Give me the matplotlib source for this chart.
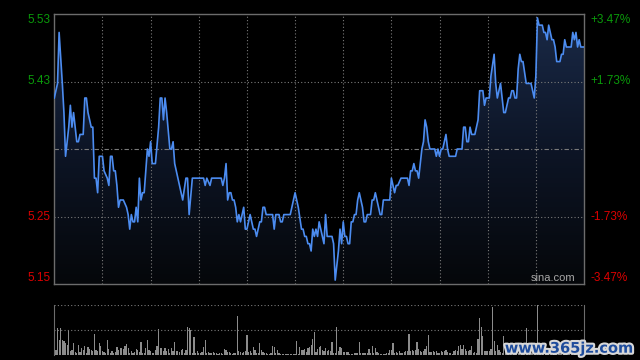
import numpy as np
import matplotlib.pyplot as plt
import matplotlib.patheffects as pe
from matplotlib.colors import LinearSegmentedColormap
from matplotlib.transforms import blended_transform_factory, offset_copy

# previous close and the +/- range shown on the chart
prev_close = 5.34
pct_range = 3.47

left_labels = ['5.53', '5.43', '5.25', '5.15']
right_labels = ['+3.47%', '+1.73%', '-1.73%', '-3.47%']
label_colors = ['#0a9a0a', '#0a9a0a', '#dd0000', '#dd0000']

# minute of the session (HK: 330 minutes) and last price
times = [0, 2, 3, 5, 6, 7, 9, 10, 11, 12, 14, 15, 16, 18, 19, 20, 21, 23, 24, 25,
         26, 27, 28, 30, 31, 33, 34, 35, 36, 37, 38, 39, 40, 41, 43, 45, 46, 47, 48, 49,
         50, 51, 52, 53, 54, 55, 56, 57, 58, 59, 60, 61, 63, 65, 66, 67, 68, 69, 70, 72,
         73, 74, 75, 77, 80, 82, 83, 84, 86, 93, 94, 95, 97, 98, 104, 105, 106, 107, 108, 109,
         110, 111, 112, 113, 114, 115, 116, 117, 118, 119, 120, 121, 122, 123, 124, 125, 126, 127, 128, 129,
         130, 131, 132, 136, 137, 138, 140, 141, 142, 143, 147, 149, 150, 151, 152, 154, 155, 156, 157, 158,
         159, 160, 161, 162, 163, 164, 165, 167, 168, 169, 170, 173, 174, 175, 177, 178, 179, 180, 181, 182,
         183, 184, 185, 186, 187, 188, 189, 190, 191, 192, 193, 194, 195, 197, 198, 199, 200, 201, 202, 203,
         204, 205, 209, 210, 211, 212, 213, 214, 216, 220, 221, 222, 223, 224, 225, 226, 227, 229, 230, 231,
         232, 233, 234, 237, 238, 239, 240, 241, 242, 243, 244, 245, 246, 250, 251, 254, 255, 256, 257, 258,
         259, 260, 262, 263, 264, 265, 267, 268, 269, 271, 272, 274, 275, 276, 277, 278, 279, 280, 281, 282,
         283, 284, 285, 286, 287, 288, 289, 290, 291, 292, 294, 297, 298, 299, 300, 301, 302, 304, 305, 306,
         307, 308, 309, 310, 311, 312, 313, 315, 316, 317, 318, 319, 322, 323, 324, 325, 326, 327, 328, 330]
prices = [5.41, 5.43, 5.50, 5.43, 5.39, 5.33, 5.37, 5.40, 5.37, 5.39, 5.35, 5.35, 5.36, 5.36, 5.41, 5.41, 5.39, 5.37, 5.37, 5.30,
          5.30, 5.28, 5.33, 5.33, 5.31, 5.30, 5.29, 5.33, 5.33, 5.31, 5.31, 5.29, 5.26, 5.27, 5.27, 5.26, 5.25, 5.23, 5.25, 5.24,
          5.24, 5.26, 5.24, 5.30, 5.27, 5.28, 5.28, 5.31, 5.34, 5.33, 5.35, 5.32, 5.32, 5.37, 5.41, 5.41, 5.38, 5.41, 5.39, 5.34,
          5.34, 5.35, 5.32, 5.30, 5.27, 5.30, 5.30, 5.25, 5.30, 5.30, 5.29, 5.30, 5.29, 5.30, 5.30, 5.29, 5.30, 5.32, 5.27, 5.28,
          5.28, 5.27, 5.27, 5.26, 5.24, 5.25, 5.24, 5.25, 5.26, 5.23, 5.23, 5.24, 5.25, 5.24, 5.23, 5.23, 5.22, 5.23, 5.24, 5.24,
          5.26, 5.26, 5.25, 5.25, 5.23, 5.25, 5.25, 5.24, 5.24, 5.25, 5.25, 5.27, 5.28, 5.27, 5.26, 5.23, 5.23, 5.22, 5.22, 5.21,
          5.21, 5.20, 5.23, 5.22, 5.23, 5.22, 5.24, 5.22, 5.21, 5.25, 5.22, 5.22, 5.21, 5.16, 5.20, 5.23, 5.21, 5.24, 5.22, 5.22,
          5.21, 5.21, 5.24, 5.24, 5.25, 5.25, 5.27, 5.28, 5.27, 5.26, 5.24, 5.24, 5.25, 5.25, 5.27, 5.27, 5.28, 5.27, 5.26, 5.25,
          5.25, 5.27, 5.27, 5.30, 5.29, 5.28, 5.29, 5.29, 5.30, 5.30, 5.29, 5.31, 5.31, 5.32, 5.31, 5.31, 5.30, 5.34, 5.35, 5.38,
          5.37, 5.35, 5.34, 5.34, 5.33, 5.34, 5.33, 5.34, 5.34, 5.35, 5.36, 5.34, 5.33, 5.33, 5.34, 5.34, 5.37, 5.37, 5.35, 5.35,
          5.37, 5.36, 5.36, 5.37, 5.38, 5.42, 5.42, 5.40, 5.41, 5.41, 5.44, 5.47, 5.43, 5.41, 5.42, 5.43, 5.41, 5.39, 5.39, 5.40,
          5.41, 5.41, 5.42, 5.42, 5.41, 5.41, 5.45, 5.47, 5.46, 5.46, 5.43, 5.43, 5.42, 5.41, 5.44, 5.52, 5.51, 5.51, 5.50, 5.50,
          5.49, 5.51, 5.50, 5.49, 5.49, 5.48, 5.46, 5.46, 5.47, 5.47, 5.49, 5.48, 5.48, 5.50, 5.49, 5.50, 5.48, 5.49, 5.48, 5.48]

# volume per minute (relative units, panel top = 100)
volumes = [76, 10, 53, 30, 53, 30, 28, 23, 20, 50,
           7, 10, 23, 5, 3, 20, 5, 13, 10, 17,
           3, 15, 12, 10, 7, 42, 10, 7, 23, 18,
           7, 5, 4, 30, 12, 3, 8, 3, 5, 15,
           10, 14, 13, 12, 17, 22, 13, 3, 8, 3,
           5, 12, 10, 5, 26, 3, 3, 14, 30, 10,
           7, 3, 3, 10, 18, 51, 13, 13, 7, 13,
           8, 12, 3, 13, 7, 26, 7, 7, 5, 10,
           12, 3, 10, 56, 53, 50, 3, 36, 3, 7,
           3, 3, 5, 15, 30, 3, 5, 3, 3, 5,
           3, 3, 2, 3, 3, 2, 12, 10, 5, 5,
           3, 2, 3, 3, 77, 7, 5, 3, 5, 7,
           40, 5, 7, 3, 15, 10, 3, 3, 23, 10,
           5, 3, 3, 2, 2, 3, 17, 15, 3, 10,
           3, 2, 2, 1, 1, 1, 1, 2, 2, 2,
           2, 28, 2, 15, 10, 10, 12, 5, 13, 15,
           20, 31, 46, 5, 12, 15, 17, 10, 7, 13,
           8, 10, 7, 25, 3, 3, 56, 7, 15, 13,
           6, 6, 6, 6, 2, 2, 2, 3, 3, 3,
           25, 3, 3, 3, 3, 3, 11, 3, 17, 3,
           13, 5, 3, 2, 2, 2, 2, 3, 3, 10,
           10, 23, 3, 5, 3, 8, 3, 3, 5, 7,
           7, 42, 7, 10, 8, 10, 26, 11, 8, 5,
           8, 11, 17, 40, 5, 5, 7, 5, 7, 3,
           3, 7, 5, 7, 10, 5, 3, 3, 2, 7,
           10, 7, 17, 20, 12, 20, 12, 7, 7, 10,
           17, 3, 5, 3, 31, 73, 56, 38, 7, 8,
           7, 7, 12, 96, 28, 7, 20, 10, 5, 3,
           38, 7, 5, 3, 7, 5, 3, 2, 2, 3,
           3, 5, 3, 8, 53, 10, 5, 3, 7, 5,
           12, 100, 20, 15, 10, 8, 12, 8, 10, 7,
           5, 8, 7, 5, 8, 7, 5, 10, 8, 7,
           12, 8, 5, 7, 8, 10, 7, 5, 8, 5, 10]

hi = prev_close * (1 + pct_range / 100)
lo = prev_close * (1 - pct_range / 100)
levels = [hi, prev_close * (1 + pct_range / 200), prev_close * (1 - pct_range / 200), lo]

grid_kw = dict(color='#7a7a7a', lw=0.8, ls=(0, (1, 2)))
spine_color = '#6c6c6c'

fig = plt.figure(figsize=(6.4, 3.6), dpi=100, facecolor='black')
plt.rcParams['font.family'] = ['Liberation Sans', 'DejaVu Sans']

# ---- price panel
ax = fig.add_axes([54.3 / 640, 1 - 284 / 360, 529.7 / 640, 270 / 360])
ax.set_facecolor('black')
ax.set_xlim(0, 330)
ax.set_ylim(lo, hi)

fill = ax.fill_between(times, prices, lo, color='none', lw=0)
cmap = LinearSegmentedColormap.from_list('bg', ['#05070a', '#0d1526', '#1a2a48'])
grad = np.linspace(0, 1, 256).reshape(-1, 1)
im = ax.imshow(grad, extent=[0, 330, lo, hi], origin='lower', aspect='auto',
               cmap=cmap, zorder=1, interpolation='bilinear')
im.set_clip_path(fill.get_paths()[0], transform=ax.transData)

for t in range(30, 330, 30):
    ax.axvline(t, zorder=2, **grid_kw)
for lv in (levels[1], levels[2]):
    ax.axhline(lv, zorder=2, **grid_kw)
ax.axhline(prev_close, color='#7a7a7a', lw=0.8, ls=(0, (4, 2, 1, 2)), zorder=2)

ax.plot(times, prices, color='#4c8cf0', lw=1.2, zorder=4)

ax.set_xticks([])
ax.set_yticks([])
for s in ax.spines.values():
    s.set_color(spine_color)
    s.set_linewidth(1)

trans = blended_transform_factory(ax.transAxes, ax.transData)
left_t = offset_copy(trans, fig=fig, x=-3, y=0, units='points')
right_t = offset_copy(trans, fig=fig, x=4.5, y=0, units='points')
vas = ['top', 'center', 'center', 'bottom']
for lv, ltxt, rtxt, c, va in zip(levels, left_labels, right_labels, label_colors, vas):
    ax.text(0, lv, ltxt, transform=left_t, ha='right', va=va, color=c, fontsize=8.5)
    ax.text(1, lv, rtxt, transform=right_t, ha='left', va=va, color=c, fontsize=8.5)

ax.text(0.983, 0.005, 'sina.com', transform=ax.transAxes, ha='right', va='bottom',
        color='#a8a8a8', fontsize=8)

# ---- volume panel
vax = fig.add_axes([54.3 / 640, 1 - 355 / 360, 529.7 / 640, 50.3 / 360])
vax.set_facecolor('black')
vax.bar(np.arange(len(volumes)), volumes, width=0.75, color='#8c8c8c', lw=0)
vax.set_xlim(0, 330)
vax.set_ylim(0, 100)
for lv in (100, 50):
    vax.axhline(lv, **grid_kw)
vax.set_xticks([])
vax.set_yticks([])
vax.spines['top'].set_visible(False)
vax.spines['bottom'].set_visible(False)
vax.spines['left'].set_color(spine_color)
vax.spines['right'].set_color(spine_color)

# site watermark
fig.text(0.99, 0.012, 'www.365jz.com', ha='right', va='bottom', color='#1e4c9c',
         fontsize=10.5, fontweight='bold', family='DejaVu Sans',
         path_effects=[pe.withStroke(linewidth=3, foreground='#d8d8d8')])

fig.savefig('out.png', dpi=100, facecolor='black')
